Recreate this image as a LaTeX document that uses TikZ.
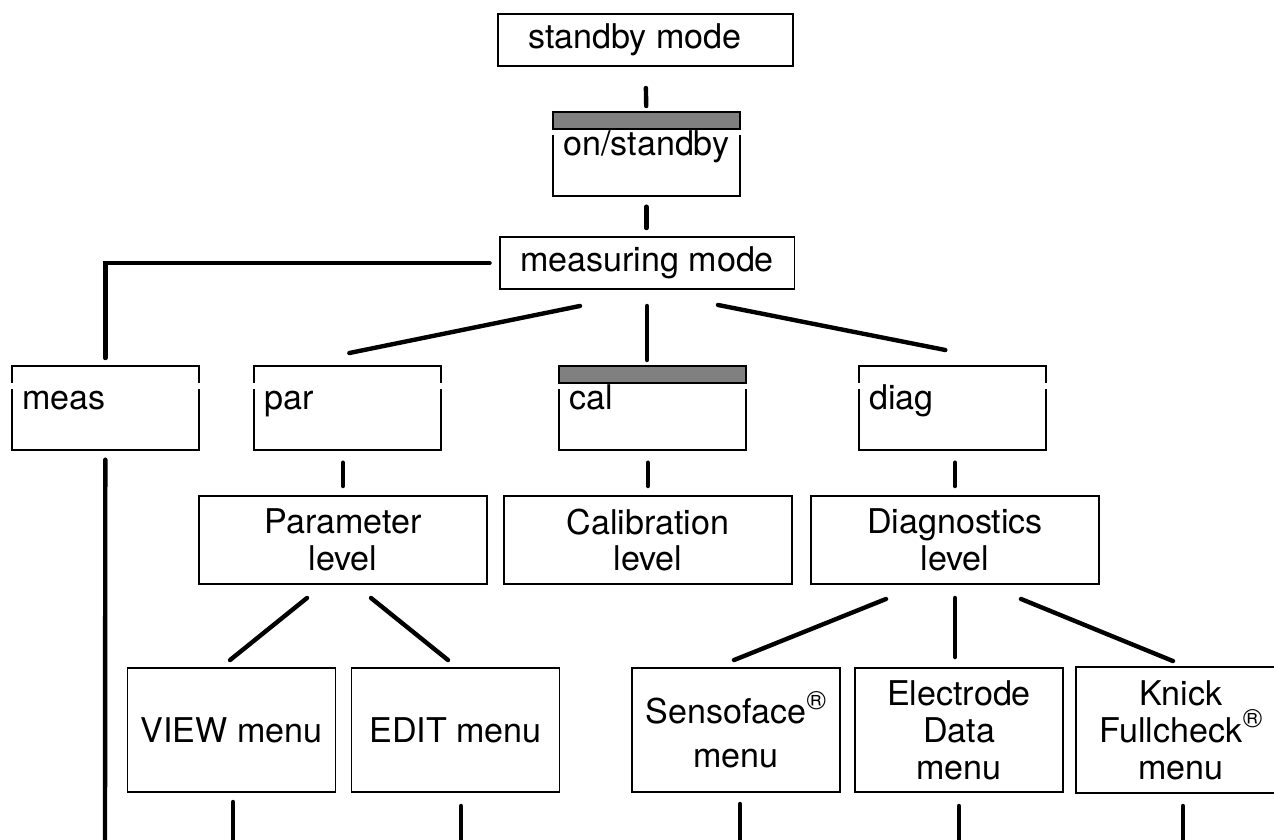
\documentclass[tikz,border=0pt]{standalone}
\usepackage{fontspec}
\setmainfont{TeX Gyre Heros}
\newcommand{\regmark}{\raisebox{0.42em}{\fontsize{15}{15}\selectfont ®}}
\begin{document}
\begin{tikzpicture}[x=0.02cm, y=-0.02cm,
    every node/.style={font=\fontsize{19.4}{21}\selectfont},
    box/.style={draw, line width=1.1pt, align=center, inner sep=0pt},
    modebox/.style={box, minimum width=5.9cm, minimum height=1.04cm},
    levelbox/.style={box, minimum width=5.76cm, minimum height=1.76cm},
    menubox/.style={box, minimum width=4.16cm, minimum height=2.48cm},
    keynode/.style={anchor=north west, inner xsep=0.2cm, inner ysep=0pt, text width=3.32cm, align=left, text height=0.86cm, text depth=0.8cm},
    keyline/.style={line width=1.1pt},
    link/.style={line width=2.5pt, line cap=round}]

    \useasboundingbox (0,0) rectangle (1274,839);

    % modes and keys down the middle
    \node[modebox] (standby) at (645.5,40) {\hspace*{-0.42cm}standby mode};
    \node[keynode] (onkey) at (553,112) {on/standby};
    \node[modebox] (mm) at (647,263) {measuring mode};

    % the four keys
    \node[keynode] (meas) at (12,366) {meas};
    \node[keynode] (par) at (254,366) {par};
    \node[keynode] (cal) at (559,366) {cal};
    \node[keynode] (diag) at (859,366) {diag};

    % key outlines: open top, bar above
    \foreach \k in {onkey,meas,par,cal,diag}
        \draw[keyline] ([yshift=-0.46cm]\k.north west) |- (\k.south east) -- ([yshift=-0.46cm]\k.north east);
    \foreach \k in {onkey,cal}
        \filldraw[keyline, fill=gray] (\k.north west) rectangle ([yshift=-0.34cm]\k.north east);
    \foreach \k in {meas,par,diag}
        \draw[keyline] ([yshift=-0.34cm]\k.north west) -- (\k.north west) -- (\k.north east) -- ([yshift=-0.34cm]\k.north east);

    % levels
    \node[levelbox] (plev) at (343,540) {Parameter\\level};
    \node[levelbox] (clev) at (648,540) {Calibration\\level};
    \node[levelbox] (dlev) at (955,540) {Diagnostics\\level};

    % menus
    \node[menubox] (view) at (231.5,730) {VIEW menu};
    \node[menubox] (edit) at (455.5,730) {EDIT menu};
    \node[menubox] (sens) at (736,730) {Sensoface\regmark\\[4pt]menu};
    \node[menubox] (elec) at (959,730) {Electrode\\Data\\menu};
    \node[menubox, draw=none] (knick) at (1181,730) {Knick\\Fullcheck\regmark\\menu};
    % last box runs off the page
    \draw[keyline] ([xshift=1cm]knick.north east) -- (knick.north west) -- (knick.south west) -- ([xshift=1cm]knick.south east);

    % loose ends at the bottom
    \coordinate (measend) at (105,850);
    \coordinate (viewend) at (233,850);
    \coordinate (editend) at (461,850);
    \coordinate (sensend) at (740,850);
    \coordinate (elecend) at (959,850);
    \coordinate (knickend) at (1183,850);

    % connectors
    \draw[link, shorten <=0.42cm, shorten >=0.12cm] (standby.south) -- (onkey.north);
    \draw[link, shorten <=0.22cm, shorten >=0.16cm] (onkey.south) -- (onkey.south |- mm.north);
    \draw[link, shorten <=0.18cm, shorten >=0.16cm] (mm.west) -| (meas.north);
    \draw[link] ([xshift=-1.34cm, yshift=-0.32cm]mm.south) -- ([xshift=0.04cm, yshift=0.26cm]par.north);
    \draw[link, shorten <=0.32cm, shorten >=0.12cm] (mm.south) -- (mm.south |- cal.north);
    \draw[link] ([xshift=1.42cm, yshift=-0.3cm]mm.south) -- ([xshift=-0.14cm, yshift=0.32cm]diag.north);

    \draw[link, shorten <=0.2cm] (meas.south) -- (measend);
    \draw[link, shorten <=0.26cm, shorten >=0.18cm] (plev.north |- par.south) -- (plev.north);
    \draw[link, shorten <=0.26cm, shorten >=0.18cm] (clev.north |- cal.south) -- (clev.north);
    \draw[link, shorten <=0.26cm, shorten >=0.18cm] (dlev.north |- diag.south) -- (dlev.north);

    \draw[link] ([xshift=-0.72cm, yshift=-0.26cm]plev.south) -- ([xshift=-0.03cm, yshift=0.14cm]view.north);
    \draw[link] ([xshift=0.56cm, yshift=-0.26cm]plev.south) -- ([xshift=-0.15cm, yshift=0.14cm]edit.north);
    \draw[link] ([xshift=-1.38cm, yshift=-0.28cm]dlev.south) -- ([xshift=-0.04cm, yshift=0.14cm]sens.north);
    \draw[link, shorten <=0.26cm, shorten >=0.2cm] (dlev.south) -- (dlev.south |- elec.north);
    \draw[link] ([xshift=1.32cm, yshift=-0.28cm]dlev.south) -- ([xshift=-0.16cm, yshift=0.12cm]knick.north);

    \draw[link, shorten <=0.18cm] (viewend |- view.south) -- (viewend);
    \draw[link, shorten <=0.26cm] (editend |- edit.south) -- (editend);
    \draw[link, shorten <=0.22cm] (sensend |- sens.south) -- (sensend);
    \draw[link, shorten <=0.26cm] (elec.south) -- (elecend);
    \draw[link, shorten <=0.26cm] (knickend |- knick.south) -- (knickend);

\end{tikzpicture}
\end{document}
